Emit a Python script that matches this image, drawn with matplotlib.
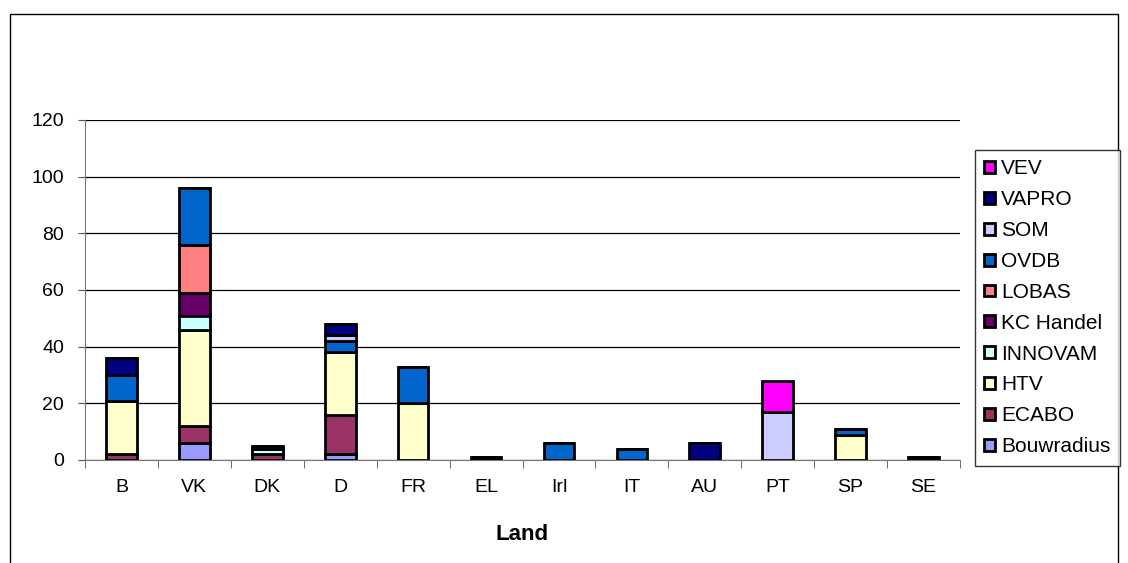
import matplotlib
matplotlib.use("Agg")
import matplotlib.pyplot as plt
import numpy as np
from matplotlib.patches import Rectangle

plt.rcParams['font.family'] = ['Liberation Sans', 'DejaVu Sans']

categories = ["B", "VK", "DK", "D", "FR", "EL", "Irl", "IT", "AU", "PT", "SP", "SE"]
series = ["Bouwradius", "ECABO", "HTV", "INNOVAM", "KC Handel", "LOBAS", "OVDB", "SOM", "VAPRO", "VEV"]
bouwradius = [0, 6, 0, 2, 0, 0, 0, 0, 0, 0, 0, 0]
ecabo      = [2, 6, 2, 14, 0, 0, 0, 0, 0, 0, 0, 0]
htv        = [19, 34, 0, 22, 20, 0, 0, 0, 0, 0, 9, 0]
innovam    = [0, 5, 2, 0, 0, 0, 0, 0, 0, 0, 0, 0]
kc_handel  = [0, 8, 0, 0, 0, 0, 0, 0, 0, 0, 0, 0]
lobas      = [0, 17, 0, 0, 0, 0, 0, 0, 0, 0, 0, 0]
ovdb       = [9, 20, 0, 4, 13, 0, 6, 4, 0, 0, 2, 0]
som        = [0, 0, 0, 2, 0, 0, 0, 0, 0, 17, 0, 0]
vapro      = [6, 0, 1, 4, 0, 1, 0, 0, 6, 0, 0, 1]
vev        = [0, 0, 0, 0, 0, 0, 0, 0, 0, 11, 0, 0]
values = [bouwradius, ecabo, htv, innovam, kc_handel, lobas, ovdb, som, vapro, vev]
colors = ["#9999FF", "#993366", "#FFFFCC", "#CCFFFF", "#660066",
          "#FF8080", "#0066CC", "#CCCCFF", "#000080", "#FF00FF"]
yticks = [0, 20, 40, 60, 80, 100, 120]

fig = plt.figure(figsize=(11.28, 5.63), dpi=100)
W, H = 1128, 563
ax = fig.add_axes([85 / W, 1 - 460 / H, (960 - 85) / W, 340 / H])

x = np.arange(len(categories))
bottom = np.zeros(len(categories))
handles = []
for name, vals, c in zip(series, values, colors):
    v = np.array(vals, dtype=float)
    b = ax.bar(x, v, bottom=bottom, width=0.42, color=c, edgecolor='black',
               linewidth=2.0, label=name, zorder=3)
    handles.append(b)
    bottom += v

ax.set_xlim(-0.5, len(categories) - 0.5)
ax.set_ylim(0, 120)
ax.set_yticks(yticks)
ax.set_yticklabels([str(t) for t in yticks], fontsize=14)
ax.set_xticks(x)
ax.set_xticklabels(categories, fontsize=14)
ax.tick_params(axis='x', length=0, pad=14)
ax.set_xticks(np.arange(len(categories) + 1) - 0.5, minor=True)
ax.tick_params(axis='x', which='minor', length=6, direction='out', color='#555555')
ax.tick_params(axis='y', length=5, direction='out', color='#555555', pad=10)
ax.yaxis.grid(True, color='black', linewidth=0.9, zorder=0)
ax.set_axisbelow(True)
for s in ['top', 'right']:
    ax.spines[s].set_visible(False)
ax.spines['left'].set_color('#777777')
ax.spines['bottom'].set_color('#777777')
ax.set_xlabel("Land", fontsize=16, fontweight='bold', labelpad=20)

leg = fig.legend(handles[::-1], series[::-1], loc='upper left',
                 bbox_to_anchor=(975 / W, 1 - 150 / H), fontsize=15,
                 frameon=True, fancybox=False, edgecolor='black',
                 handlelength=0.5, handleheight=0.5, handletextpad=0.3,
                 labelspacing=0.57, borderpad=0.45, borderaxespad=0)
leg.get_frame().set_linewidth(1.0)

fig.patches.append(Rectangle((10 / W, -0.05), (1118 - 10) / W, 1.05 - 14 / H,
                             transform=fig.transFigure, fill=False,
                             edgecolor='black', linewidth=1.0))

fig.savefig("out.png", dpi=100, facecolor='white')
